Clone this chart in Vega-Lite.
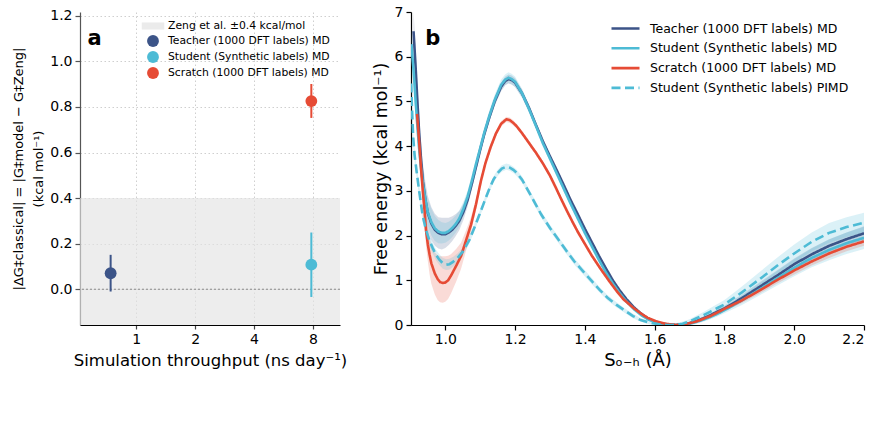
{
  "$schema": "https://vega.github.io/schema/vega-lite/v6.json",
  "padding": {"left": 12, "top": 5, "right": 5, "bottom": 5},
  "background": "white",
  "spacing": 71,
  "bounds": "flush",
  "resolve": {"scale": {"color": "independent", "fill": "independent", "stroke": "independent", "shape": "independent", "strokeDash": "independent"}, "legend": {"color": "independent", "shape": "independent", "strokeDash": "independent"}},
  "config": {
    "font": "DejaVu Sans",
    "view": {"stroke": null},
    "axis": {"labelFont": "DejaVu Sans", "labelFontSize": 14, "labelColor": "#000", "titleFont": "DejaVu Sans", "titleFontSize": 16.5, "titleFontWeight": "normal", "titleColor": "#000", "domainColor": "#000", "tickColor": "#000", "tickSize": 5, "domainWidth": 1.2, "tickWidth": 1.2, "grid": false, "labelPadding": 3, "titlePadding": 6},
    "legend": {"labelFont": "DejaVu Sans", "labelColor": "#000", "labelLimit": 400}
  },
  "datasets": {
    "pts": [
      {"model": "Teacher (1000 DFT labels) MD", "x": 0.74, "yv": 0.07, "lo": -0.01, "hi": 0.151},
      {"model": "Student (Synthetic labels) MD", "x": 7.85, "yv": 0.108, "lo": -0.034, "hi": 0.249},
      {"model": "Scratch (1000 DFT labels) MD", "x": 7.85, "yv": 0.826, "lo": 0.752, "hi": 0.901}
    ],
    "fe": [
      {"s": "Teacher (1000 DFT labels) MD", "x": 0.909, "y": 6.57, "lo": 6.12, "hi": 7.02},
      {"s": "Teacher (1000 DFT labels) MD", "x": 0.915, "y": 5.75, "lo": 5.33, "hi": 6.17},
      {"s": "Teacher (1000 DFT labels) MD", "x": 0.92, "y": 5.0, "lo": 4.6, "hi": 5.4},
      {"s": "Teacher (1000 DFT labels) MD", "x": 0.925, "y": 4.3, "lo": 3.9, "hi": 4.7},
      {"s": "Teacher (1000 DFT labels) MD", "x": 0.93, "y": 3.75, "lo": 3.35, "hi": 4.15},
      {"s": "Teacher (1000 DFT labels) MD", "x": 0.936, "y": 3.2, "lo": 2.8, "hi": 3.6},
      {"s": "Teacher (1000 DFT labels) MD", "x": 0.943, "y": 2.8, "lo": 2.4, "hi": 3.2},
      {"s": "Teacher (1000 DFT labels) MD", "x": 0.95, "y": 2.5, "lo": 2.12, "hi": 2.88},
      {"s": "Teacher (1000 DFT labels) MD", "x": 0.96, "y": 2.27, "lo": 1.9, "hi": 2.64},
      {"s": "Teacher (1000 DFT labels) MD", "x": 0.97, "y": 2.13, "lo": 1.77, "hi": 2.49},
      {"s": "Teacher (1000 DFT labels) MD", "x": 0.98, "y": 2.06, "lo": 1.71, "hi": 2.41},
      {"s": "Teacher (1000 DFT labels) MD", "x": 0.99, "y": 2.03, "lo": 1.69, "hi": 2.4},
      {"s": "Teacher (1000 DFT labels) MD", "x": 1.0, "y": 2.03, "lo": 1.72, "hi": 2.4},
      {"s": "Teacher (1000 DFT labels) MD", "x": 1.01, "y": 2.07, "lo": 1.79, "hi": 2.4},
      {"s": "Teacher (1000 DFT labels) MD", "x": 1.02, "y": 2.13, "lo": 1.88, "hi": 2.43},
      {"s": "Teacher (1000 DFT labels) MD", "x": 1.03, "y": 2.22, "lo": 1.99, "hi": 2.48},
      {"s": "Teacher (1000 DFT labels) MD", "x": 1.04, "y": 2.33, "lo": 2.12, "hi": 2.55},
      {"s": "Teacher (1000 DFT labels) MD", "x": 1.052, "y": 2.53, "lo": 2.35, "hi": 2.71},
      {"s": "Teacher (1000 DFT labels) MD", "x": 1.064, "y": 2.8, "lo": 2.65, "hi": 2.95},
      {"s": "Teacher (1000 DFT labels) MD", "x": 1.078, "y": 3.22, "lo": 3.1, "hi": 3.34},
      {"s": "Teacher (1000 DFT labels) MD", "x": 1.09, "y": 3.6, "lo": 3.5, "hi": 3.7},
      {"s": "Teacher (1000 DFT labels) MD", "x": 1.1, "y": 3.92, "lo": 3.82, "hi": 4.02},
      {"s": "Teacher (1000 DFT labels) MD", "x": 1.111, "y": 4.25, "lo": 4.15, "hi": 4.35},
      {"s": "Teacher (1000 DFT labels) MD", "x": 1.126, "y": 4.64, "lo": 4.54, "hi": 4.74},
      {"s": "Teacher (1000 DFT labels) MD", "x": 1.142, "y": 5.01, "lo": 4.91, "hi": 5.11},
      {"s": "Teacher (1000 DFT labels) MD", "x": 1.16, "y": 5.33, "lo": 5.23, "hi": 5.43},
      {"s": "Teacher (1000 DFT labels) MD", "x": 1.172, "y": 5.46, "lo": 5.36, "hi": 5.56},
      {"s": "Teacher (1000 DFT labels) MD", "x": 1.181, "y": 5.5, "lo": 5.4, "hi": 5.6},
      {"s": "Teacher (1000 DFT labels) MD", "x": 1.19, "y": 5.48, "lo": 5.38, "hi": 5.58},
      {"s": "Teacher (1000 DFT labels) MD", "x": 1.2, "y": 5.42, "lo": 5.32, "hi": 5.52},
      {"s": "Teacher (1000 DFT labels) MD", "x": 1.22, "y": 5.18, "lo": 5.09, "hi": 5.27},
      {"s": "Teacher (1000 DFT labels) MD", "x": 1.24, "y": 4.85, "lo": 4.77, "hi": 4.93},
      {"s": "Teacher (1000 DFT labels) MD", "x": 1.26, "y": 4.47, "lo": 4.4, "hi": 4.54},
      {"s": "Teacher (1000 DFT labels) MD", "x": 1.28, "y": 4.1, "lo": 4.04, "hi": 4.16},
      {"s": "Teacher (1000 DFT labels) MD", "x": 1.3, "y": 3.77, "lo": 3.72, "hi": 3.82},
      {"s": "Teacher (1000 DFT labels) MD", "x": 1.32, "y": 3.45, "lo": 3.4, "hi": 3.5},
      {"s": "Teacher (1000 DFT labels) MD", "x": 1.34, "y": 3.12, "lo": 3.07, "hi": 3.17},
      {"s": "Teacher (1000 DFT labels) MD", "x": 1.36, "y": 2.78, "lo": 2.73, "hi": 2.83},
      {"s": "Teacher (1000 DFT labels) MD", "x": 1.38, "y": 2.47, "lo": 2.42, "hi": 2.52},
      {"s": "Teacher (1000 DFT labels) MD", "x": 1.4, "y": 2.15, "lo": 2.1, "hi": 2.2},
      {"s": "Teacher (1000 DFT labels) MD", "x": 1.42, "y": 1.85, "lo": 1.8, "hi": 1.9},
      {"s": "Teacher (1000 DFT labels) MD", "x": 1.44, "y": 1.55, "lo": 1.5, "hi": 1.6},
      {"s": "Teacher (1000 DFT labels) MD", "x": 1.46, "y": 1.27, "lo": 1.23, "hi": 1.31},
      {"s": "Teacher (1000 DFT labels) MD", "x": 1.48, "y": 1.0, "lo": 0.96, "hi": 1.04},
      {"s": "Teacher (1000 DFT labels) MD", "x": 1.5, "y": 0.77, "lo": 0.73, "hi": 0.81},
      {"s": "Teacher (1000 DFT labels) MD", "x": 1.52, "y": 0.57, "lo": 0.53, "hi": 0.61},
      {"s": "Teacher (1000 DFT labels) MD", "x": 1.54, "y": 0.4, "lo": 0.37, "hi": 0.43},
      {"s": "Teacher (1000 DFT labels) MD", "x": 1.56, "y": 0.26, "lo": 0.23, "hi": 0.29},
      {"s": "Teacher (1000 DFT labels) MD", "x": 1.58, "y": 0.15, "lo": 0.12, "hi": 0.18},
      {"s": "Teacher (1000 DFT labels) MD", "x": 1.6, "y": 0.08, "lo": 0.06, "hi": 0.1},
      {"s": "Teacher (1000 DFT labels) MD", "x": 1.62, "y": 0.03, "lo": 0.01, "hi": 0.05},
      {"s": "Teacher (1000 DFT labels) MD", "x": 1.64, "y": 0.01, "lo": -0.01, "hi": 0.03},
      {"s": "Teacher (1000 DFT labels) MD", "x": 1.66, "y": 0.0, "lo": -0.02, "hi": 0.02},
      {"s": "Teacher (1000 DFT labels) MD", "x": 1.68, "y": 0.01, "lo": -0.01, "hi": 0.03},
      {"s": "Teacher (1000 DFT labels) MD", "x": 1.7, "y": 0.04, "lo": 0.01, "hi": 0.07},
      {"s": "Teacher (1000 DFT labels) MD", "x": 1.72, "y": 0.09, "lo": 0.06, "hi": 0.12},
      {"s": "Teacher (1000 DFT labels) MD", "x": 1.74, "y": 0.15, "lo": 0.11, "hi": 0.19},
      {"s": "Teacher (1000 DFT labels) MD", "x": 1.76, "y": 0.22, "lo": 0.18, "hi": 0.26},
      {"s": "Teacher (1000 DFT labels) MD", "x": 1.78, "y": 0.3, "lo": 0.25, "hi": 0.35},
      {"s": "Teacher (1000 DFT labels) MD", "x": 1.8, "y": 0.37, "lo": 0.31, "hi": 0.43},
      {"s": "Teacher (1000 DFT labels) MD", "x": 1.85, "y": 0.6, "lo": 0.52, "hi": 0.68},
      {"s": "Teacher (1000 DFT labels) MD", "x": 1.9, "y": 0.85, "lo": 0.75, "hi": 0.95},
      {"s": "Teacher (1000 DFT labels) MD", "x": 1.95, "y": 1.1, "lo": 0.98, "hi": 1.22},
      {"s": "Teacher (1000 DFT labels) MD", "x": 2.0, "y": 1.36, "lo": 1.23, "hi": 1.49},
      {"s": "Teacher (1000 DFT labels) MD", "x": 2.05, "y": 1.58, "lo": 1.44, "hi": 1.72},
      {"s": "Teacher (1000 DFT labels) MD", "x": 2.1, "y": 1.77, "lo": 1.62, "hi": 1.92},
      {"s": "Teacher (1000 DFT labels) MD", "x": 2.15, "y": 1.92, "lo": 1.77, "hi": 2.07},
      {"s": "Teacher (1000 DFT labels) MD", "x": 2.2, "y": 2.05, "lo": 1.89, "hi": 2.21},

      {"s": "Student (Synthetic labels) MD", "x": 0.903, "y": 6.28, "lo": 5.93, "hi": 6.63},
      {"s": "Student (Synthetic labels) MD", "x": 0.91, "y": 5.6, "lo": 5.25, "hi": 5.95},
      {"s": "Student (Synthetic labels) MD", "x": 0.915, "y": 5.0, "lo": 4.65, "hi": 5.35},
      {"s": "Student (Synthetic labels) MD", "x": 0.92, "y": 4.45, "lo": 4.1, "hi": 4.8},
      {"s": "Student (Synthetic labels) MD", "x": 0.925, "y": 3.95, "lo": 3.6, "hi": 4.3},
      {"s": "Student (Synthetic labels) MD", "x": 0.93, "y": 3.55, "lo": 3.22, "hi": 3.88},
      {"s": "Student (Synthetic labels) MD", "x": 0.936, "y": 3.15, "lo": 2.83, "hi": 3.47},
      {"s": "Student (Synthetic labels) MD", "x": 0.943, "y": 2.8, "lo": 2.49, "hi": 3.11},
      {"s": "Student (Synthetic labels) MD", "x": 0.95, "y": 2.52, "lo": 2.22, "hi": 2.82},
      {"s": "Student (Synthetic labels) MD", "x": 0.96, "y": 2.3, "lo": 2.0, "hi": 2.6},
      {"s": "Student (Synthetic labels) MD", "x": 0.97, "y": 2.16, "lo": 1.88, "hi": 2.44},
      {"s": "Student (Synthetic labels) MD", "x": 0.98, "y": 2.09, "lo": 1.83, "hi": 2.35},
      {"s": "Student (Synthetic labels) MD", "x": 0.99, "y": 2.06, "lo": 1.82, "hi": 2.3},
      {"s": "Student (Synthetic labels) MD", "x": 1.0, "y": 2.06, "lo": 1.84, "hi": 2.28},
      {"s": "Student (Synthetic labels) MD", "x": 1.01, "y": 2.1, "lo": 1.89, "hi": 2.31},
      {"s": "Student (Synthetic labels) MD", "x": 1.02, "y": 2.17, "lo": 1.97, "hi": 2.37},
      {"s": "Student (Synthetic labels) MD", "x": 1.03, "y": 2.26, "lo": 2.07, "hi": 2.45},
      {"s": "Student (Synthetic labels) MD", "x": 1.04, "y": 2.38, "lo": 2.2, "hi": 2.56},
      {"s": "Student (Synthetic labels) MD", "x": 1.052, "y": 2.6, "lo": 2.44, "hi": 2.76},
      {"s": "Student (Synthetic labels) MD", "x": 1.064, "y": 2.87, "lo": 2.73, "hi": 3.01},
      {"s": "Student (Synthetic labels) MD", "x": 1.076, "y": 3.22, "lo": 3.09, "hi": 3.35},
      {"s": "Student (Synthetic labels) MD", "x": 1.088, "y": 3.6, "lo": 3.48, "hi": 3.72},
      {"s": "Student (Synthetic labels) MD", "x": 1.1, "y": 3.95, "lo": 3.83, "hi": 4.07},
      {"s": "Student (Synthetic labels) MD", "x": 1.111, "y": 4.28, "lo": 4.16, "hi": 4.4},
      {"s": "Student (Synthetic labels) MD", "x": 1.126, "y": 4.67, "lo": 4.55, "hi": 4.79},
      {"s": "Student (Synthetic labels) MD", "x": 1.142, "y": 5.04, "lo": 4.92, "hi": 5.16},
      {"s": "Student (Synthetic labels) MD", "x": 1.16, "y": 5.37, "lo": 5.25, "hi": 5.49},
      {"s": "Student (Synthetic labels) MD", "x": 1.172, "y": 5.49, "lo": 5.37, "hi": 5.61},
      {"s": "Student (Synthetic labels) MD", "x": 1.181, "y": 5.53, "lo": 5.41, "hi": 5.65},
      {"s": "Student (Synthetic labels) MD", "x": 1.19, "y": 5.5, "lo": 5.38, "hi": 5.62},
      {"s": "Student (Synthetic labels) MD", "x": 1.2, "y": 5.44, "lo": 5.32, "hi": 5.56},
      {"s": "Student (Synthetic labels) MD", "x": 1.22, "y": 5.18, "lo": 5.08, "hi": 5.28},
      {"s": "Student (Synthetic labels) MD", "x": 1.24, "y": 4.83, "lo": 4.74, "hi": 4.92},
      {"s": "Student (Synthetic labels) MD", "x": 1.26, "y": 4.45, "lo": 4.37, "hi": 4.53},
      {"s": "Student (Synthetic labels) MD", "x": 1.28, "y": 4.06, "lo": 3.99, "hi": 4.13},
      {"s": "Student (Synthetic labels) MD", "x": 1.3, "y": 3.72, "lo": 3.66, "hi": 3.78},
      {"s": "Student (Synthetic labels) MD", "x": 1.32, "y": 3.38, "lo": 3.32, "hi": 3.44},
      {"s": "Student (Synthetic labels) MD", "x": 1.34, "y": 3.04, "lo": 2.98, "hi": 3.1},
      {"s": "Student (Synthetic labels) MD", "x": 1.36, "y": 2.7, "lo": 2.64, "hi": 2.76},
      {"s": "Student (Synthetic labels) MD", "x": 1.38, "y": 2.38, "lo": 2.32, "hi": 2.44},
      {"s": "Student (Synthetic labels) MD", "x": 1.4, "y": 2.06, "lo": 2.0, "hi": 2.12},
      {"s": "Student (Synthetic labels) MD", "x": 1.42, "y": 1.76, "lo": 1.71, "hi": 1.81},
      {"s": "Student (Synthetic labels) MD", "x": 1.44, "y": 1.46, "lo": 1.41, "hi": 1.51},
      {"s": "Student (Synthetic labels) MD", "x": 1.46, "y": 1.18, "lo": 1.13, "hi": 1.23},
      {"s": "Student (Synthetic labels) MD", "x": 1.48, "y": 0.93, "lo": 0.88, "hi": 0.98},
      {"s": "Student (Synthetic labels) MD", "x": 1.5, "y": 0.71, "lo": 0.67, "hi": 0.75},
      {"s": "Student (Synthetic labels) MD", "x": 1.52, "y": 0.52, "lo": 0.48, "hi": 0.56},
      {"s": "Student (Synthetic labels) MD", "x": 1.54, "y": 0.36, "lo": 0.32, "hi": 0.4},
      {"s": "Student (Synthetic labels) MD", "x": 1.56, "y": 0.23, "lo": 0.2, "hi": 0.26},
      {"s": "Student (Synthetic labels) MD", "x": 1.58, "y": 0.13, "lo": 0.1, "hi": 0.16},
      {"s": "Student (Synthetic labels) MD", "x": 1.6, "y": 0.07, "lo": 0.04, "hi": 0.1},
      {"s": "Student (Synthetic labels) MD", "x": 1.62, "y": 0.03, "lo": 0.0, "hi": 0.06},
      {"s": "Student (Synthetic labels) MD", "x": 1.64, "y": 0.01, "lo": -0.02, "hi": 0.04},
      {"s": "Student (Synthetic labels) MD", "x": 1.66, "y": 0.0, "lo": -0.03, "hi": 0.03},
      {"s": "Student (Synthetic labels) MD", "x": 1.68, "y": 0.01, "lo": -0.02, "hi": 0.04},
      {"s": "Student (Synthetic labels) MD", "x": 1.7, "y": 0.03, "lo": -0.01, "hi": 0.07},
      {"s": "Student (Synthetic labels) MD", "x": 1.72, "y": 0.07, "lo": 0.03, "hi": 0.11},
      {"s": "Student (Synthetic labels) MD", "x": 1.74, "y": 0.12, "lo": 0.07, "hi": 0.17},
      {"s": "Student (Synthetic labels) MD", "x": 1.76, "y": 0.18, "lo": 0.13, "hi": 0.23},
      {"s": "Student (Synthetic labels) MD", "x": 1.78, "y": 0.25, "lo": 0.19, "hi": 0.31},
      {"s": "Student (Synthetic labels) MD", "x": 1.8, "y": 0.33, "lo": 0.26, "hi": 0.4},
      {"s": "Student (Synthetic labels) MD", "x": 1.85, "y": 0.55, "lo": 0.45, "hi": 0.65},
      {"s": "Student (Synthetic labels) MD", "x": 1.9, "y": 0.79, "lo": 0.66, "hi": 0.92},
      {"s": "Student (Synthetic labels) MD", "x": 1.95, "y": 1.04, "lo": 0.88, "hi": 1.2},
      {"s": "Student (Synthetic labels) MD", "x": 2.0, "y": 1.28, "lo": 1.09, "hi": 1.47},
      {"s": "Student (Synthetic labels) MD", "x": 2.05, "y": 1.5, "lo": 1.29, "hi": 1.71},
      {"s": "Student (Synthetic labels) MD", "x": 2.1, "y": 1.68, "lo": 1.45, "hi": 1.91},
      {"s": "Student (Synthetic labels) MD", "x": 2.15, "y": 1.83, "lo": 1.59, "hi": 2.07},
      {"s": "Student (Synthetic labels) MD", "x": 2.2, "y": 1.95, "lo": 1.7, "hi": 2.2},

      {"s": "Scratch (1000 DFT labels) MD", "x": 0.919, "y": 4.72, "lo": 4.42, "hi": 5.02},
      {"s": "Scratch (1000 DFT labels) MD", "x": 0.925, "y": 4.1, "lo": 3.8, "hi": 4.4},
      {"s": "Scratch (1000 DFT labels) MD", "x": 0.93, "y": 3.55, "lo": 3.25, "hi": 3.85},
      {"s": "Scratch (1000 DFT labels) MD", "x": 0.936, "y": 2.95, "lo": 2.62, "hi": 3.28},
      {"s": "Scratch (1000 DFT labels) MD", "x": 0.94, "y": 2.6, "lo": 2.26, "hi": 2.94},
      {"s": "Scratch (1000 DFT labels) MD", "x": 0.945, "y": 2.1, "lo": 1.75, "hi": 2.45},
      {"s": "Scratch (1000 DFT labels) MD", "x": 0.95, "y": 1.8, "lo": 1.42, "hi": 2.18},
      {"s": "Scratch (1000 DFT labels) MD", "x": 0.955, "y": 1.57, "lo": 1.13, "hi": 1.97},
      {"s": "Scratch (1000 DFT labels) MD", "x": 0.96, "y": 1.38, "lo": 0.92, "hi": 1.78},
      {"s": "Scratch (1000 DFT labels) MD", "x": 0.97, "y": 1.15, "lo": 0.68, "hi": 1.62},
      {"s": "Scratch (1000 DFT labels) MD", "x": 0.978, "y": 1.03, "lo": 0.56, "hi": 1.56},
      {"s": "Scratch (1000 DFT labels) MD", "x": 0.985, "y": 0.96, "lo": 0.51, "hi": 1.54},
      {"s": "Scratch (1000 DFT labels) MD", "x": 0.993, "y": 0.94, "lo": 0.5, "hi": 1.54},
      {"s": "Scratch (1000 DFT labels) MD", "x": 1.0, "y": 0.95, "lo": 0.52, "hi": 1.54},
      {"s": "Scratch (1000 DFT labels) MD", "x": 1.008, "y": 1.0, "lo": 0.58, "hi": 1.55},
      {"s": "Scratch (1000 DFT labels) MD", "x": 1.016, "y": 1.1, "lo": 0.7, "hi": 1.58},
      {"s": "Scratch (1000 DFT labels) MD", "x": 1.031, "y": 1.32, "lo": 0.97, "hi": 1.7},
      {"s": "Scratch (1000 DFT labels) MD", "x": 1.045, "y": 1.54, "lo": 1.25, "hi": 1.84},
      {"s": "Scratch (1000 DFT labels) MD", "x": 1.059, "y": 1.88, "lo": 1.65, "hi": 2.11},
      {"s": "Scratch (1000 DFT labels) MD", "x": 1.074, "y": 2.25, "lo": 2.08, "hi": 2.42},
      {"s": "Scratch (1000 DFT labels) MD", "x": 1.088, "y": 2.7, "lo": 2.58, "hi": 2.82},
      {"s": "Scratch (1000 DFT labels) MD", "x": 1.102, "y": 3.22, "lo": 3.13, "hi": 3.31},
      {"s": "Scratch (1000 DFT labels) MD", "x": 1.115, "y": 3.62, "lo": 3.55, "hi": 3.69},
      {"s": "Scratch (1000 DFT labels) MD", "x": 1.13, "y": 3.98, "lo": 3.91, "hi": 4.05},
      {"s": "Scratch (1000 DFT labels) MD", "x": 1.145, "y": 4.28, "lo": 4.22, "hi": 4.34},
      {"s": "Scratch (1000 DFT labels) MD", "x": 1.16, "y": 4.5, "lo": 4.44, "hi": 4.56},
      {"s": "Scratch (1000 DFT labels) MD", "x": 1.175, "y": 4.6, "lo": 4.54, "hi": 4.66},
      {"s": "Scratch (1000 DFT labels) MD", "x": 1.185, "y": 4.58, "lo": 4.52, "hi": 4.64},
      {"s": "Scratch (1000 DFT labels) MD", "x": 1.195, "y": 4.52, "lo": 4.46, "hi": 4.58},
      {"s": "Scratch (1000 DFT labels) MD", "x": 1.204, "y": 4.45, "lo": 4.4, "hi": 4.5},
      {"s": "Scratch (1000 DFT labels) MD", "x": 1.22, "y": 4.29, "lo": 4.24, "hi": 4.34},
      {"s": "Scratch (1000 DFT labels) MD", "x": 1.24, "y": 4.07, "lo": 4.02, "hi": 4.12},
      {"s": "Scratch (1000 DFT labels) MD", "x": 1.26, "y": 3.85, "lo": 3.8, "hi": 3.9},
      {"s": "Scratch (1000 DFT labels) MD", "x": 1.28, "y": 3.61, "lo": 3.56, "hi": 3.66},
      {"s": "Scratch (1000 DFT labels) MD", "x": 1.3, "y": 3.34, "lo": 3.29, "hi": 3.39},
      {"s": "Scratch (1000 DFT labels) MD", "x": 1.315, "y": 3.1, "lo": 3.05, "hi": 3.15},
      {"s": "Scratch (1000 DFT labels) MD", "x": 1.33, "y": 2.85, "lo": 2.8, "hi": 2.9},
      {"s": "Scratch (1000 DFT labels) MD", "x": 1.35, "y": 2.53, "lo": 2.48, "hi": 2.58},
      {"s": "Scratch (1000 DFT labels) MD", "x": 1.367, "y": 2.27, "lo": 2.22, "hi": 2.32},
      {"s": "Scratch (1000 DFT labels) MD", "x": 1.38, "y": 2.08, "lo": 2.03, "hi": 2.13},
      {"s": "Scratch (1000 DFT labels) MD", "x": 1.395, "y": 1.88, "lo": 1.83, "hi": 1.93},
      {"s": "Scratch (1000 DFT labels) MD", "x": 1.42, "y": 1.55, "lo": 1.5, "hi": 1.6},
      {"s": "Scratch (1000 DFT labels) MD", "x": 1.443, "y": 1.28, "lo": 1.23, "hi": 1.33},
      {"s": "Scratch (1000 DFT labels) MD", "x": 1.47, "y": 0.98, "lo": 0.94, "hi": 1.02},
      {"s": "Scratch (1000 DFT labels) MD", "x": 1.491, "y": 0.76, "lo": 0.72, "hi": 0.8},
      {"s": "Scratch (1000 DFT labels) MD", "x": 1.51, "y": 0.58, "lo": 0.54, "hi": 0.62},
      {"s": "Scratch (1000 DFT labels) MD", "x": 1.538, "y": 0.39, "lo": 0.36, "hi": 0.42},
      {"s": "Scratch (1000 DFT labels) MD", "x": 1.56, "y": 0.26, "lo": 0.23, "hi": 0.29},
      {"s": "Scratch (1000 DFT labels) MD", "x": 1.58, "y": 0.16, "lo": 0.13, "hi": 0.19},
      {"s": "Scratch (1000 DFT labels) MD", "x": 1.605, "y": 0.08, "lo": 0.06, "hi": 0.1},
      {"s": "Scratch (1000 DFT labels) MD", "x": 1.63, "y": 0.03, "lo": 0.01, "hi": 0.05},
      {"s": "Scratch (1000 DFT labels) MD", "x": 1.66, "y": 0.0, "lo": -0.02, "hi": 0.02},
      {"s": "Scratch (1000 DFT labels) MD", "x": 1.68, "y": 0.01, "lo": -0.01, "hi": 0.03},
      {"s": "Scratch (1000 DFT labels) MD", "x": 1.7, "y": 0.04, "lo": 0.01, "hi": 0.07},
      {"s": "Scratch (1000 DFT labels) MD", "x": 1.72, "y": 0.08, "lo": 0.05, "hi": 0.11},
      {"s": "Scratch (1000 DFT labels) MD", "x": 1.74, "y": 0.14, "lo": 0.1, "hi": 0.18},
      {"s": "Scratch (1000 DFT labels) MD", "x": 1.76, "y": 0.2, "lo": 0.16, "hi": 0.24},
      {"s": "Scratch (1000 DFT labels) MD", "x": 1.78, "y": 0.28, "lo": 0.23, "hi": 0.33},
      {"s": "Scratch (1000 DFT labels) MD", "x": 1.8, "y": 0.36, "lo": 0.31, "hi": 0.41},
      {"s": "Scratch (1000 DFT labels) MD", "x": 1.85, "y": 0.55, "lo": 0.49, "hi": 0.61},
      {"s": "Scratch (1000 DFT labels) MD", "x": 1.9, "y": 0.77, "lo": 0.7, "hi": 0.84},
      {"s": "Scratch (1000 DFT labels) MD", "x": 1.95, "y": 1.0, "lo": 0.92, "hi": 1.08},
      {"s": "Scratch (1000 DFT labels) MD", "x": 2.0, "y": 1.22, "lo": 1.13, "hi": 1.31},
      {"s": "Scratch (1000 DFT labels) MD", "x": 2.05, "y": 1.42, "lo": 1.33, "hi": 1.51},
      {"s": "Scratch (1000 DFT labels) MD", "x": 2.1, "y": 1.6, "lo": 1.5, "hi": 1.7},
      {"s": "Scratch (1000 DFT labels) MD", "x": 2.15, "y": 1.75, "lo": 1.65, "hi": 1.85},
      {"s": "Scratch (1000 DFT labels) MD", "x": 2.2, "y": 1.87, "lo": 1.77, "hi": 1.97},

      {"s": "Student (Synthetic labels) PIMD", "x": 0.902, "y": 5.4, "lo": 5.25, "hi": 5.55},
      {"s": "Student (Synthetic labels) PIMD", "x": 0.905, "y": 4.75, "lo": 4.6, "hi": 4.9},
      {"s": "Student (Synthetic labels) PIMD", "x": 0.908, "y": 4.2, "lo": 4.05, "hi": 4.35},
      {"s": "Student (Synthetic labels) PIMD", "x": 0.912, "y": 3.8, "lo": 3.65, "hi": 3.95},
      {"s": "Student (Synthetic labels) PIMD", "x": 0.918, "y": 3.42, "lo": 3.28, "hi": 3.56},
      {"s": "Student (Synthetic labels) PIMD", "x": 0.925, "y": 3.0, "lo": 2.86, "hi": 3.14},
      {"s": "Student (Synthetic labels) PIMD", "x": 0.935, "y": 2.45, "lo": 2.32, "hi": 2.58},
      {"s": "Student (Synthetic labels) PIMD", "x": 0.945, "y": 2.12, "lo": 2.0, "hi": 2.24},
      {"s": "Student (Synthetic labels) PIMD", "x": 0.955, "y": 1.88, "lo": 1.76, "hi": 2.0},
      {"s": "Student (Synthetic labels) PIMD", "x": 0.964, "y": 1.72, "lo": 1.6, "hi": 1.84},
      {"s": "Student (Synthetic labels) PIMD", "x": 0.974, "y": 1.56, "lo": 1.44, "hi": 1.68},
      {"s": "Student (Synthetic labels) PIMD", "x": 0.983, "y": 1.46, "lo": 1.34, "hi": 1.58},
      {"s": "Student (Synthetic labels) PIMD", "x": 0.993, "y": 1.38, "lo": 1.26, "hi": 1.5},
      {"s": "Student (Synthetic labels) PIMD", "x": 1.003, "y": 1.35, "lo": 1.23, "hi": 1.47},
      {"s": "Student (Synthetic labels) PIMD", "x": 1.012, "y": 1.36, "lo": 1.24, "hi": 1.48},
      {"s": "Student (Synthetic labels) PIMD", "x": 1.022, "y": 1.41, "lo": 1.3, "hi": 1.52},
      {"s": "Student (Synthetic labels) PIMD", "x": 1.035, "y": 1.5, "lo": 1.4, "hi": 1.6},
      {"s": "Student (Synthetic labels) PIMD", "x": 1.05, "y": 1.64, "lo": 1.55, "hi": 1.73},
      {"s": "Student (Synthetic labels) PIMD", "x": 1.069, "y": 1.9, "lo": 1.82, "hi": 1.98},
      {"s": "Student (Synthetic labels) PIMD", "x": 1.083, "y": 2.17, "lo": 2.09, "hi": 2.25},
      {"s": "Student (Synthetic labels) PIMD", "x": 1.098, "y": 2.47, "lo": 2.4, "hi": 2.54},
      {"s": "Student (Synthetic labels) PIMD", "x": 1.112, "y": 2.76, "lo": 2.69, "hi": 2.83},
      {"s": "Student (Synthetic labels) PIMD", "x": 1.126, "y": 3.04, "lo": 2.97, "hi": 3.11},
      {"s": "Student (Synthetic labels) PIMD", "x": 1.138, "y": 3.25, "lo": 3.18, "hi": 3.32},
      {"s": "Student (Synthetic labels) PIMD", "x": 1.15, "y": 3.4, "lo": 3.33, "hi": 3.47},
      {"s": "Student (Synthetic labels) PIMD", "x": 1.162, "y": 3.5, "lo": 3.43, "hi": 3.57},
      {"s": "Student (Synthetic labels) PIMD", "x": 1.175, "y": 3.54, "lo": 3.47, "hi": 3.61},
      {"s": "Student (Synthetic labels) PIMD", "x": 1.185, "y": 3.52, "lo": 3.45, "hi": 3.59},
      {"s": "Student (Synthetic labels) PIMD", "x": 1.195, "y": 3.47, "lo": 3.4, "hi": 3.54},
      {"s": "Student (Synthetic labels) PIMD", "x": 1.204, "y": 3.41, "lo": 3.34, "hi": 3.48},
      {"s": "Student (Synthetic labels) PIMD", "x": 1.22, "y": 3.25, "lo": 3.18, "hi": 3.32},
      {"s": "Student (Synthetic labels) PIMD", "x": 1.235, "y": 3.04, "lo": 2.97, "hi": 3.11},
      {"s": "Student (Synthetic labels) PIMD", "x": 1.252, "y": 2.8, "lo": 2.73, "hi": 2.87},
      {"s": "Student (Synthetic labels) PIMD", "x": 1.275, "y": 2.47, "lo": 2.4, "hi": 2.54},
      {"s": "Student (Synthetic labels) PIMD", "x": 1.3, "y": 2.17, "lo": 2.1, "hi": 2.24},
      {"s": "Student (Synthetic labels) PIMD", "x": 1.325, "y": 1.9, "lo": 1.83, "hi": 1.97},
      {"s": "Student (Synthetic labels) PIMD", "x": 1.347, "y": 1.66, "lo": 1.59, "hi": 1.73},
      {"s": "Student (Synthetic labels) PIMD", "x": 1.37, "y": 1.42, "lo": 1.35, "hi": 1.49},
      {"s": "Student (Synthetic labels) PIMD", "x": 1.395, "y": 1.2, "lo": 1.13, "hi": 1.27},
      {"s": "Student (Synthetic labels) PIMD", "x": 1.42, "y": 0.98, "lo": 0.91, "hi": 1.05},
      {"s": "Student (Synthetic labels) PIMD", "x": 1.443, "y": 0.78, "lo": 0.72, "hi": 0.84},
      {"s": "Student (Synthetic labels) PIMD", "x": 1.465, "y": 0.61, "lo": 0.55, "hi": 0.67},
      {"s": "Student (Synthetic labels) PIMD", "x": 1.491, "y": 0.45, "lo": 0.39, "hi": 0.51},
      {"s": "Student (Synthetic labels) PIMD", "x": 1.515, "y": 0.32, "lo": 0.27, "hi": 0.37},
      {"s": "Student (Synthetic labels) PIMD", "x": 1.538, "y": 0.2, "lo": 0.15, "hi": 0.25},
      {"s": "Student (Synthetic labels) PIMD", "x": 1.56, "y": 0.11, "lo": 0.07, "hi": 0.15},
      {"s": "Student (Synthetic labels) PIMD", "x": 1.586, "y": 0.05, "lo": 0.01, "hi": 0.09},
      {"s": "Student (Synthetic labels) PIMD", "x": 1.61, "y": 0.02, "lo": -0.02, "hi": 0.06},
      {"s": "Student (Synthetic labels) PIMD", "x": 1.634, "y": 0.0, "lo": -0.04, "hi": 0.04},
      {"s": "Student (Synthetic labels) PIMD", "x": 1.66, "y": 0.0, "lo": -0.04, "hi": 0.04},
      {"s": "Student (Synthetic labels) PIMD", "x": 1.68, "y": 0.03, "lo": -0.02, "hi": 0.08},
      {"s": "Student (Synthetic labels) PIMD", "x": 1.7, "y": 0.08, "lo": 0.03, "hi": 0.13},
      {"s": "Student (Synthetic labels) PIMD", "x": 1.72, "y": 0.15, "lo": 0.09, "hi": 0.21},
      {"s": "Student (Synthetic labels) PIMD", "x": 1.74, "y": 0.22, "lo": 0.15, "hi": 0.29},
      {"s": "Student (Synthetic labels) PIMD", "x": 1.76, "y": 0.3, "lo": 0.22, "hi": 0.38},
      {"s": "Student (Synthetic labels) PIMD", "x": 1.78, "y": 0.38, "lo": 0.29, "hi": 0.47},
      {"s": "Student (Synthetic labels) PIMD", "x": 1.8, "y": 0.46, "lo": 0.36, "hi": 0.56},
      {"s": "Student (Synthetic labels) PIMD", "x": 1.85, "y": 0.73, "lo": 0.6, "hi": 0.86},
      {"s": "Student (Synthetic labels) PIMD", "x": 1.9, "y": 1.02, "lo": 0.86, "hi": 1.18},
      {"s": "Student (Synthetic labels) PIMD", "x": 1.95, "y": 1.32, "lo": 1.14, "hi": 1.5},
      {"s": "Student (Synthetic labels) PIMD", "x": 2.0, "y": 1.6, "lo": 1.4, "hi": 1.8},
      {"s": "Student (Synthetic labels) PIMD", "x": 2.05, "y": 1.86, "lo": 1.65, "hi": 2.07},
      {"s": "Student (Synthetic labels) PIMD", "x": 2.1, "y": 2.06, "lo": 1.84, "hi": 2.28},
      {"s": "Student (Synthetic labels) PIMD", "x": 2.15, "y": 2.19, "lo": 1.97, "hi": 2.41},
      {"s": "Student (Synthetic labels) PIMD", "x": 2.2, "y": 2.29, "lo": 2.07, "hi": 2.51}
    ]
  },
  "hconcat": [
    {
      "width": 260,
      "height": 313,
      "layer": [
        {
          "data": {"values": [{"model": "Zeng et al. ±0.4 kcal/mol", "ylo": -0.4, "yhi": 0.4}]},
          "mark": {"type": "rect", "clip": true, "opacity": 0.65},
          "encoding": {
            "y": {"field": "ylo", "type": "quantitative", "scale": {"domain": [-0.157, 1.217], "nice": false, "zero": false},
                  "axis": {"values": [0, 0.2, 0.4, 0.6, 0.8, 1.0, 1.2], "format": ".1f", "grid": true, "gridDash": [1.5, 2.5], "gridColor": "#cfcfcf", "domainColor": "#555", "tickColor": "#555",
                           "title": ["|ΔG‡classical| = |G‡model − G‡Zeng|", "(kcal mol⁻¹)"], "titleFontSize": 13, "titleLineHeight": 20, "titlePadding": 4}},
            "y2": {"field": "yhi"},
            "fill": {"field": "model", "type": "nominal", "legend": null,
                     "scale": {"domain": ["Zeng et al. ±0.4 kcal/mol"], "range": ["#e4e4e4"]}}
          }
        },
        {
          "data": {"values": [{"yv": 0}]},
          "mark": {"type": "rule", "strokeDash": [2, 2], "color": "#888888", "strokeWidth": 1.2},
          "encoding": {"y": {"field": "yv", "type": "quantitative"}}
        },
        {
          "data": {"name": "pts"},
          "mark": {"type": "rule", "strokeWidth": 2},
          "encoding": {
            "x": {"field": "x", "type": "quantitative", "scale": {"type": "log", "base": 2, "domain": [0.516, 11], "nice": false},
                  "axis": {"values": [1, 2, 4, 8], "format": "d", "grid": true, "gridDash": [1.5, 2.5], "gridColor": "#cfcfcf", "tickSize": 4, "tickColor": "#444", "labelPadding": 3, "title": "Simulation throughput (ns day⁻¹)"}},
            "y": {"field": "lo", "type": "quantitative"},
            "y2": {"field": "hi"},
            "stroke": {"field": "model", "type": "nominal", "legend": null,
                       "scale": {"domain": ["Teacher (1000 DFT labels) MD", "Student (Synthetic labels) MD", "Scratch (1000 DFT labels) MD"], "range": ["#3C5488", "#4DBBD5", "#E64B35"]}}
          }
        },
        {
          "data": {"name": "pts"},
          "mark": {"type": "point", "filled": true, "opacity": 1, "size": 140},
          "encoding": {
            "x": {"field": "x", "type": "quantitative"},
            "y": {"field": "yv", "type": "quantitative"},
            "color": {"field": "model", "type": "nominal",
                      "scale": {"domain": ["Zeng et al. ±0.4 kcal/mol", "Teacher (1000 DFT labels) MD", "Student (Synthetic labels) MD", "Scratch (1000 DFT labels) MD"], "range": ["#ebebeb", "#3C5488", "#4DBBD5", "#E64B35"]},
                      "legend": {"title": null, "orient": "none", "legendX": 67, "legendY": 8, "padding": 0, "symbolSize": 140, "labelFontSize": 10.8, "labelOffset": 9, "rowPadding": 4, "symbolStrokeWidth": 0, "labelLimit": 400}},
            "shape": {"field": "model", "type": "nominal",
                      "scale": {"domain": ["Zeng et al. ±0.4 kcal/mol", "Teacher (1000 DFT labels) MD", "Student (Synthetic labels) MD", "Scratch (1000 DFT labels) MD"], "range": ["M-1.9,-0.6H1.9V0.6H-1.9Z", "circle", "circle", "circle"]},
                      "legend": {"title": null, "orient": "none", "legendX": 67, "legendY": 8, "padding": 0, "symbolSize": 140, "labelFontSize": 10.8, "labelOffset": 9, "rowPadding": 4, "symbolStrokeWidth": 0, "labelLimit": 400}}
          }
        },
        {
          "data": {"values": [{"t": "a", "x": 0.612, "yv": 1.072}]},
          "mark": {"type": "text", "fontWeight": "bold", "fontSize": 21, "align": "center", "baseline": "alphabetic", "color": "#000"},
          "encoding": {"x": {"field": "x", "type": "quantitative"}, "y": {"field": "yv", "type": "quantitative"}, "text": {"field": "t"}}
        }
      ]
    },
    {
      "width": 453,
      "height": 313,
      "layer": [
        {
          "data": {"name": "fe"},
          "mark": {"type": "area", "opacity": 0.2, "clip": true},
          "encoding": {
            "x": {"field": "x", "type": "quantitative", "scale": {"domain": [0.9017, 2.2], "nice": false, "zero": false},
                  "axis": {"values": [1.0, 1.2, 1.4, 1.6, 1.8, 2.0, 2.2], "format": ".1f", "title": "Sₒ₋ₕ  (Å)", "titleFontSize": 18, "labelPadding": 2, "titlePadding": 5}},
            "y": {"field": "lo", "type": "quantitative", "scale": {"domain": [0, 7], "nice": false},
                  "axis": {"values": [0, 1, 2, 3, 4, 5, 6, 7], "format": "d", "title": "Free energy  (kcal mol⁻¹)", "titleFontSize": 17.5, "titlePadding": 4}},
            "y2": {"field": "hi"},
            "fill": {"field": "s", "type": "nominal", "legend": null,
                     "scale": {"domain": ["Student (Synthetic labels) PIMD", "Scratch (1000 DFT labels) MD", "Student (Synthetic labels) MD", "Teacher (1000 DFT labels) MD"], "range": ["#4DBBD5", "#E64B35", "#4DBBD5", "#3C5488"]}}
          }
        },
        {
          "data": {"name": "fe"},
          "mark": {"type": "line", "strokeWidth": 2.6, "clip": true},
          "encoding": {
            "x": {"field": "x", "type": "quantitative"},
            "y": {"field": "y", "type": "quantitative"},
            "color": {"field": "s", "type": "nominal",
                      "scale": {"domain": ["Teacher (1000 DFT labels) MD", "Student (Synthetic labels) MD", "Scratch (1000 DFT labels) MD", "Student (Synthetic labels) PIMD"], "range": ["#3C5488", "#4DBBD5", "#E64B35", "#4DBBD5"]},
                      "legend": {"title": null, "orient": "none", "legendX": 206, "legendY": 8, "padding": 0, "symbolType": "M-2,0H2", "symbolSize": 196, "symbolStrokeWidth": 2.6, "labelFontSize": 12.5, "labelOffset": 16, "rowPadding": 4.8, "labelLimit": 400}},
            "strokeDash": {"field": "s", "type": "nominal",
                           "scale": {"domain": ["Teacher (1000 DFT labels) MD", "Student (Synthetic labels) MD", "Scratch (1000 DFT labels) MD", "Student (Synthetic labels) PIMD"], "range": [[1, 0], [1, 0], [1, 0], [9, 4.5]]},
                           "legend": {"title": null, "orient": "none", "legendX": 206, "legendY": 8, "padding": 0, "symbolType": "M-2,0H2", "symbolSize": 196, "symbolStrokeWidth": 2.6, "labelFontSize": 12.5, "labelOffset": 16, "rowPadding": 4.8, "labelLimit": 400}}
          }
        },
        {
          "data": {"values": [{"t": "b", "x": 0.964, "y": 6.27}]},
          "mark": {"type": "text", "fontWeight": "bold", "fontSize": 21, "align": "center", "baseline": "alphabetic", "color": "#000"},
          "encoding": {"x": {"field": "x", "type": "quantitative"}, "y": {"field": "y", "type": "quantitative"}, "text": {"field": "t"}}
        }
      ]
    }
  ]
}
